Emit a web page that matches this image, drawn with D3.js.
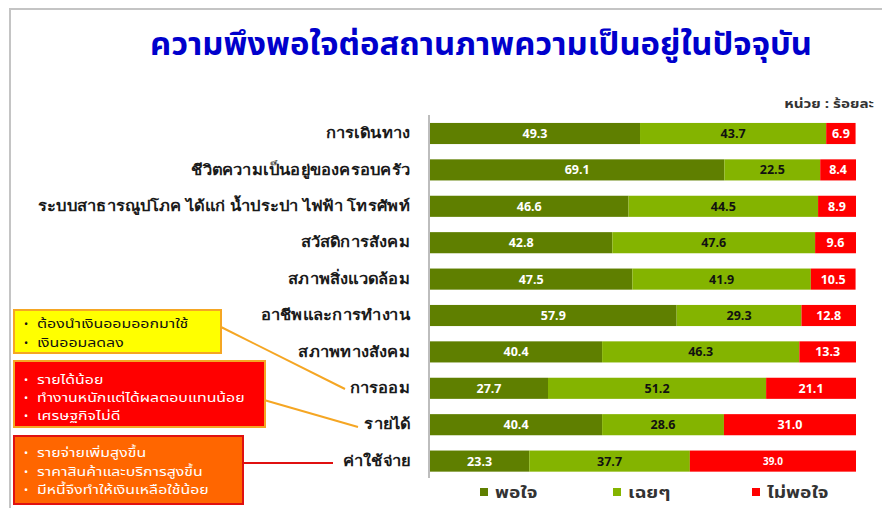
<!DOCTYPE html>
<html><head><meta charset="utf-8">
<script src="https://cdn.jsdelivr.net/npm/d3@7/dist/d3.min.js"></script>
<style>
body{margin:0;background:#fff;}
svg{display:block;font-family:Tahoma,"Noto Sans Thai","Noto Sans","Loma","Garuda",sans-serif;}
</style></head>
<body>
<script>
const categories = ["การเดินทาง","ชีวิตความเป็นอยู่ของครอบครัว","ระบบสาธารณูปโภค ได้แก่ น้ำประปา ไฟฟ้า โทรศัพท์","สวัสดิการสังคม","สภาพสิ่งแวดล้อม","อาชีพและการทำงาน","สภาพทางสังคม","การออม","รายได้","ค่าใช้จ่าย"];
const satisfied   = [49.3,69.1,46.6,42.8,47.5,57.9,40.4,27.7,40.4,23.3];
const neutral     = [43.7,22.5,44.5,47.6,41.9,29.3,46.3,51.2,28.6,37.7];
const unsatisfied = [6.9,8.4,8.9,9.6,10.5,12.8,13.3,21.1,31.0,39.0];
const seriesNames = ["พอใจ","เฉยๆ","ไม่พอใจ"];
const titleText = "ความพึงพอใจต่อสถานภาพความเป็นอยู่ในปัจจุบัน";
const unitText = "หน่วย : ร้อยละ";
const calloutSaving = ["ต้องนำเงินออมออกมาใช้","เงินออมลดลง"];
const calloutIncome = ["รายได้น้อย","ทำงานหนักแต่ได้ผลตอบแทนน้อย","เศรษฐกิจไม่ดี"];
const calloutExpense = ["รายจ่ายเพิ่มสูงขึ้น","ราคาสินค้าและบริการสูงขึ้น","มีหนี้จึงทำให้เงินเหลือใช้น้อย"];

const W=882,H=508;
const colors=["#5f7f00","#84b400","#ff0000"];
const textColors=["#ffffff","#111111","#ffffff"];

const svg=d3.select("body").append("svg").attr("width",W).attr("height",H);

function stretch(sel,f){
  sel.each(function(){
    const len=this.getComputedTextLength();
    d3.select(this).attr("textLength",len*f).attr("lengthAdjust","spacingAndGlyphs");
  });
}

// frame
svg.append("path").attr("d","M10,508 L10,9 L882,9").attr("fill","none").attr("stroke","#c4c4c4").attr("stroke-width",2);

// title
const tt=svg.append("text").attr("x",481).attr("y",55).attr("text-anchor","middle")
  .attr("font-size",31).attr("font-weight","bold").attr("fill","#0000cc").text(titleText);
tt.attr("textLength",662).attr("lengthAdjust","spacingAndGlyphs");

const ut=svg.append("text").attr("x",874).attr("y",108).attr("text-anchor","end")
  .attr("font-size",13).attr("font-weight","bold").attr("fill","#333").text(unitText);
stretch(ut,1.17);

const x=d3.scaleLinear().domain([0,100]).range([430,856]);
const y=d3.scaleBand().domain(categories).range([115.3,479.3]).paddingInner(0.42).paddingOuter(0.21);

const rows=categories.map((c,i)=>({cat:c,vals:[satisfied[i],neutral[i],unsatisfied[i]]}));
const segs=[];
rows.forEach(r=>{let acc=0;r.vals.forEach((v,k)=>{segs.push({cat:r.cat,k,v,x0:acc,x1:acc+v});acc+=v;});});

svg.append("g").selectAll("rect").data(segs).join("rect")
  .attr("x",d=>x(d.x0)).attr("width",d=>x(d.x1)-x(d.x0))
  .attr("y",d=>y(d.cat)).attr("height",y.bandwidth())
  .attr("fill",d=>colors[d.k]);

svg.append("g").selectAll("text").data(segs).join("text")
  .attr("x",d=>(x(d.x0)+x(d.x1))/2).attr("y",d=>y(d.cat)+y.bandwidth()/2)
  .attr("dy","0.36em").attr("text-anchor","middle")
  .attr("font-size",d=>(d.k===2&&d.v===39.0)?10:12.5).attr("font-weight","bold")
  .attr("fill",d=>textColors[d.k]).text(d=>d.v.toFixed(1));

// axis
const yAxis=d3.axisLeft(y).tickSize(0).tickPadding(19);
const ag=svg.append("g").attr("transform","translate(429,0)").call(yAxis);
ag.select(".domain").attr("stroke","#bdbdbd").attr("stroke-width",2).attr("d","M0,115V478");
const tl=ag.selectAll("text").attr("font-size",14.5).attr("font-weight","bold").attr("fill","#1a1a1a")
  .attr("font-family",null);
stretch(tl,1.14);

// legend
const legX=[480,613,752];
const lg=svg.append("g").selectAll("g").data(seriesNames).join("g")
  .attr("transform",(d,i)=>`translate(${legX[i]},492)`);
lg.append("rect").attr("x",0).attr("y",-4).attr("width",8).attr("height",8).attr("fill",(d,i)=>colors[i]);
const lt=lg.append("text").attr("x",15).attr("dy","0.36em").attr("font-size",16).attr("font-weight","bold").attr("fill","#333").text(d=>d);
stretch(lt,1.2);

// callouts
function callout(lines,box,fill,stroke,txt,lineStart,lineEnd,lineColor,baselines){
  svg.append("line").attr("x1",lineStart[0]).attr("y1",lineStart[1]).attr("x2",lineEnd[0]).attr("y2",lineEnd[1])
    .attr("stroke",lineColor).attr("stroke-width",2);
  svg.append("rect").attr("x",box[0]).attr("y",box[1]).attr("width",box[2]).attr("height",box[3])
    .attr("fill",fill).attr("stroke",stroke).attr("stroke-width",2);
  const g=svg.append("g");
  lines.forEach((l,i)=>{
    g.append("text").attr("x",box[0]+10).attr("y",baselines[i]).attr("font-size",11).attr("fill",txt).text("•");
    const t=g.append("text").attr("x",box[0]+23).attr("y",baselines[i]).attr("font-size",12.5).attr("fill",txt).text(l);
    stretch(t,1.27);
  });
}
callout(calloutSaving,[14,310,207,43],"#ffff00","#f5a623","#111",[221,327],[345,389],"#f5a623",[328,347]);
callout(calloutIncome,[14,361,251,66],"#ff0000","#f5a623","#fff",[264,400],[358,427],"#f5a623",[384,402,420]);
callout(calloutExpense,[14,436,229,68],"#ff6600","#e01010","#fff",[243,463],[333,463],"#e01010",[457,476,494]);
</script>
</body></html>
